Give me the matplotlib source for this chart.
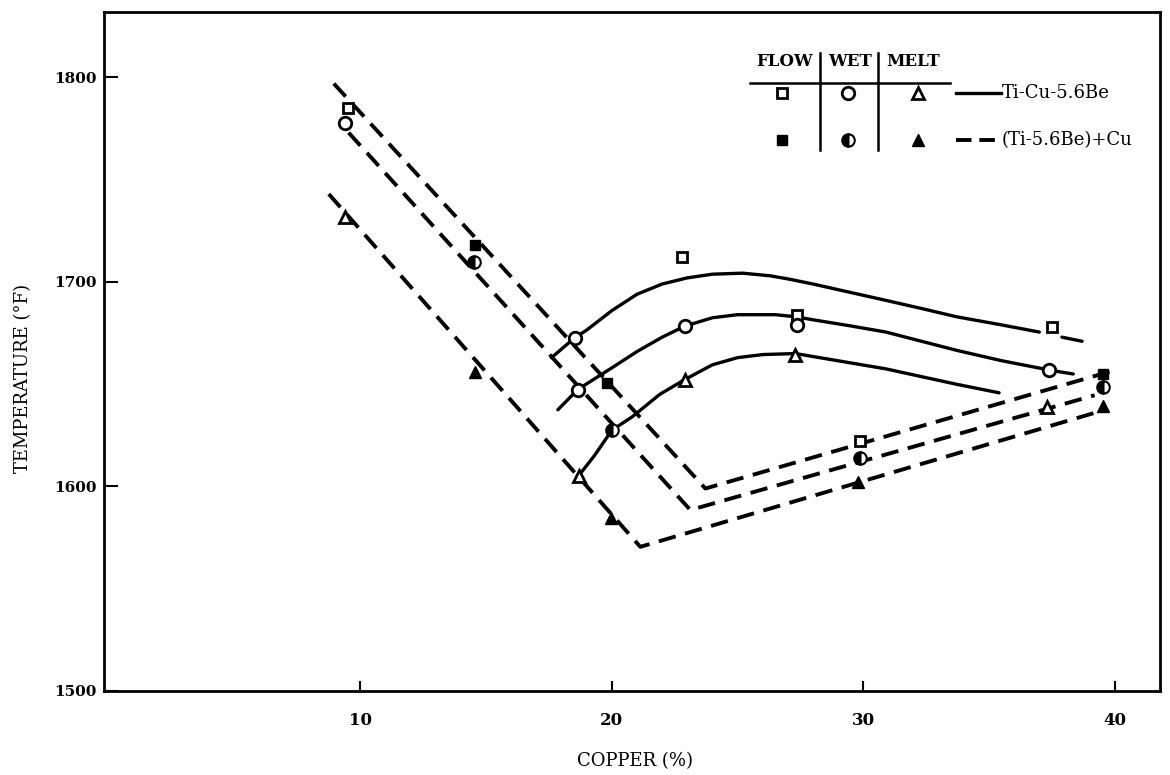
import numpy as np
import matplotlib.pyplot as plt

plt.rcParams['font.family'] = ['DejaVu Serif', 'Liberation Serif']

# Ti-Cu-5.6Be (open markers)
flow_open_x = [9.5, 22.8, 27.35, 37.5, 29.85]
flow_open_y = [1785, 1712, 1684, 1678, 1622]
wet_open_x = [9.4, 18.55, 18.65, 22.92, 27.35, 37.37]
wet_open_y = [1777.5, 1672.8, 1647.4, 1678.4, 1679, 1657]
melt_open_x = [9.4, 18.7, 22.92, 27.3, 37.3]
melt_open_y = [1732, 1605, 1652.3, 1664.2, 1638.7]

# (Ti-5.6Be)+Cu (filled markers)
flow_fill_x = [14.55, 19.8, 39.55]
flow_fill_y = [1718, 1650.4, 1655.2]
wet_fill_x = [14.5, 20.0, 29.85, 39.55]
wet_fill_y = [1710, 1627.7, 1614, 1648.4]
melt_fill_x = [14.55, 19.95, 29.8, 39.55]
melt_fill_y = [1656, 1584.4, 1602.3, 1639.3]

# solid curves (Ti-Cu-5.6Be)
flow_curve_x = [17.6, 18.5, 19.0, 20.0, 21.0, 22.0, 23.0, 24.0, 25.2, 26.3, 27.0,
                28.0, 28.9, 30.9, 32.5, 33.7, 35.5, 37.0]
flow_curve_y = [1663, 1672.5, 1676.5, 1686, 1694, 1699, 1702, 1703.8, 1704.3, 1703,
                1701.5, 1699, 1696.5, 1691, 1686.5, 1683, 1679, 1675.5]
flow_tail_x = [37.9, 38.7]
flow_tail_y = [1673, 1671]
wet_curve_x = [17.85, 18.65, 20.0, 21.0, 22.0, 22.9, 24.0, 25.0, 26.5, 27.3, 28.0,
               29.5, 30.9, 33.7, 35.5, 37.37]
wet_curve_y = [1637.5, 1647.5, 1658, 1666, 1673, 1678.4, 1682.5, 1684, 1684, 1683,
               1681.5, 1678.5, 1675.5, 1666.6, 1661.5, 1657]
wet_tail_x = [37.6, 38.35]
wet_tail_y = [1656.5, 1655]
melt_curve_x = [18.7, 19.3, 20.0, 20.8, 21.9, 22.9, 24.0, 25.0, 26.0, 27.3, 28.5,
                30.9, 33.7, 35.4]
melt_curve_y = [1605.6, 1615, 1627.5, 1634, 1645, 1652.3, 1659.5, 1663, 1664.5, 1665,
                1662.5, 1657.5, 1650, 1645.8]

# dashed lines ((Ti-5.6Be)+Cu)
flow_dash_x = [8.94, 23.72, 39.9]
flow_dash_y = [1797, 1599, 1656.5]
wet_dash_x = [9.53, 23.12, 39.2]
wet_dash_y = [1773, 1588.5, 1644.6]
melt_dash_x = [8.74, 21.13, 39.2]
melt_dash_y = [1743, 1570.5, 1636]

fig = plt.figure(figsize=(11.7, 7.75), dpi=100)
ax = fig.add_axes([104 / 1170, 1 - 691 / 775, 1056 / 1170, 679 / 775])

lw = 2.4
dash = (4.5, 2.5)
for xs, ys in [(flow_curve_x, flow_curve_y), (flow_tail_x, flow_tail_y),
               (wet_curve_x, wet_curve_y), (wet_tail_x, wet_tail_y),
               (melt_curve_x, melt_curve_y)]:
    ax.plot(xs, ys, color='black', lw=lw, solid_capstyle='round', zorder=2)
for xs, ys in [(flow_dash_x, flow_dash_y), (wet_dash_x, wet_dash_y),
               (melt_dash_x, melt_dash_y)]:
    ax.plot(xs, ys, color='black', lw=lw + 0.4, dashes=dash, zorder=2)

ms = 9
ax.plot(flow_open_x, flow_open_y, 's', ms=ms - 1.5, mfc='white', mec='black', mew=2, zorder=3)
ax.plot(wet_open_x, wet_open_y, 'o', ms=ms, mfc='white', mec='black', mew=2, zorder=3)
ax.plot(melt_open_x, melt_open_y, '^', ms=ms, mfc='white', mec='black', mew=2, zorder=3)
ax.plot(flow_fill_x, flow_fill_y, 's', ms=ms - 1.5, color='black', zorder=3)
ax.plot(wet_fill_x, wet_fill_y, 'o', ms=ms, color='black', fillstyle='left',
        markerfacecoloralt='white', mec='black', mew=1.5, zorder=3)
ax.plot(melt_fill_x, melt_fill_y, '^', ms=ms, color='black', zorder=3)

ax.set_xlim(-0.2, 41.8)
ax.set_ylim(1500, 1832)
ax.set_xticks([10, 20, 30, 40])
ax.set_yticks([1500, 1600, 1700, 1800])
ax.tick_params(axis='x', direction='in', length=7, width=1.5, pad=15, labelsize=12)
ax.tick_params(axis='y', direction='in', length=10, width=1.5, pad=5, labelsize=11)
for lab in ax.get_xticklabels() + ax.get_yticklabels():
    lab.set_fontweight('bold')
for s in ax.spines.values():
    s.set_linewidth(2)

fig.text(635 / 1170, 1 - 761 / 775, 'COPPER (%)', ha='center', va='center', fontsize=13)
fig.text(23 / 1170, 1 - 378 / 775, 'TEMPERATURE (°F)', ha='center', va='center',
         rotation=90, fontsize=13)

# legend table
tr = ax.transAxes
hy = 0.927
for label, hx in [('FLOW', 0.645), ('WET', 0.706), ('MELT', 0.766)]:
    ax.text(hx, hy, label, transform=tr, ha='center', va='center', fontsize=12,
            fontweight='bold')
ax.plot([0.612, 0.801], [0.896, 0.896], transform=tr, color='black', lw=1.8)
for vx in [0.678, 0.733]:
    ax.plot([vx, vx], [0.94, 0.797], transform=tr, color='black', lw=1.8)
r1, r2 = 0.880, 0.811
mx = [0.642, 0.705, 0.771]
ax.plot(mx[0], r1, 's', ms=ms - 1.5, mfc='white', mec='black', mew=2, transform=tr)
ax.plot(mx[1], r1, 'o', ms=ms, mfc='white', mec='black', mew=2, transform=tr)
ax.plot(mx[2], r1, '^', ms=ms, mfc='white', mec='black', mew=2, transform=tr)
ax.plot(mx[0], r2, 's', ms=ms - 1.5, color='black', transform=tr)
ax.plot(mx[1], r2, 'o', ms=ms, color='black', fillstyle='left',
        markerfacecoloralt='white', mec='black', mew=1.5, transform=tr)
ax.plot(mx[2], r2, '^', ms=ms, color='black', transform=tr)
ax.plot([0.807, 0.849], [r1, r1], transform=tr, color='black', lw=lw)
ax.plot([0.807, 0.849], [r2, r2], transform=tr, color='black', lw=lw + 0.4, dashes=(4, 2))
ax.text(0.850, r1, 'Ti-Cu-5.6Be', transform=tr, ha='left', va='center', fontsize=13)
ax.text(0.850, r2, '(Ti-5.6Be)+Cu', transform=tr, ha='left', va='center', fontsize=13)

fig.savefig('out.png', dpi=100)
